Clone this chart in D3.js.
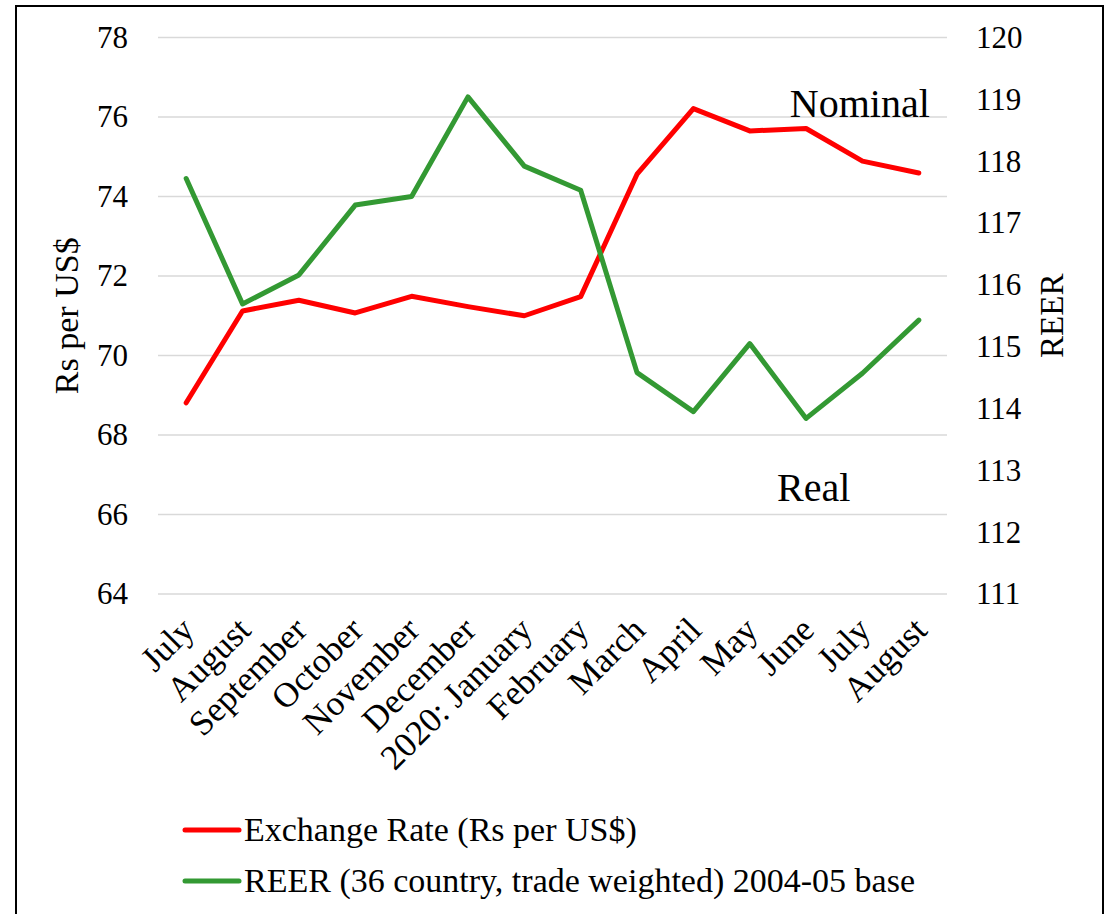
<!DOCTYPE html>
<html>
<head>
<meta charset="utf-8">
<script src="https://cdn.jsdelivr.net/npm/d3@7"></script>
<style>
  html, body { margin: 0; padding: 0; background: #fff; }
  svg { display: block; }
  text { font-family: "Liberation Serif", "Times New Roman", serif; fill: #000; }
</style>
</head>
<body>
<svg id="chart" width="1109" height="914" font-family="Liberation Serif"></svg>
<script>
// Months, July 2019 to August 2020
const months = ["July", "August", "September", "October", "November", "December",
  "2020: January", "February", "March", "April", "May", "June", "July", "August"];

// Nominal exchange rate, Rs per US$ (left axis)
const exchangeRate = [68.81, 71.12, 71.39, 71.07, 71.49, 71.23, 71.00, 71.48,
  74.56, 76.21, 75.65, 75.71, 74.89, 74.59];

// REER, 36-country trade weighted, 2004-05 base (right axis)
const reer = [117.72, 115.69, 116.16, 117.29, 117.43, 119.04, 117.92, 117.53,
  114.58, 113.95, 115.05, 113.84, 114.57, 115.43];

const leftTicks = [64, 66, 68, 70, 72, 74, 76, 78];
const rightTicks = [111, 112, 113, 114, 115, 116, 117, 118, 119, 120];

const legendLabels = ["Exchange Rate (Rs per US$)", "REER (36 country, trade weighted) 2004-05 base"];
const seriesColors = ["#ff0000", "#339933"];

const svg = d3.select("#chart");
const serif = "Liberation Serif";

const plot = { left: 158, right: 947, top: 37.5, bottom: 594 };

const x = d3.scalePoint()
  .domain(d3.range(months.length))
  .range([plot.left, plot.right])
  .padding(0.5);

const yLeft = d3.scaleLinear().domain([64, 78]).range([plot.bottom, plot.top]);
const yRight = d3.scaleLinear().domain([111, 120]).range([plot.bottom, plot.top]);

// Outer frame
svg.append("rect")
  .attr("x", 16).attr("y", 6)
  .attr("width", 1087).attr("height", 920)
  .attr("fill", "none").attr("stroke", "#000").attr("stroke-width", 2);

// Horizontal gridlines on the left-axis ticks
svg.append("g")
  .selectAll("line")
  .data(leftTicks)
  .join("line")
  .attr("x1", plot.left).attr("x2", plot.right)
  .attr("y1", d => yLeft(d)).attr("y2", d => yLeft(d))
  .attr("stroke", "#d9d9d9").attr("stroke-width", 1.5);

// Left axis
const gLeft = svg.append("g")
  .attr("transform", `translate(${plot.left},0)`)
  .call(d3.axisLeft(yLeft).tickValues(leftTicks).tickSize(0).tickPadding(30))
  .attr("font-family", serif)
  .attr("font-size", 31);
gLeft.select(".domain").remove();

// Right axis
const gRight = svg.append("g")
  .attr("transform", `translate(${plot.right},0)`)
  .call(d3.axisRight(yRight).tickValues(rightTicks).tickSize(0).tickPadding(29))
  .attr("font-family", serif)
  .attr("font-size", 31);
gRight.select(".domain").remove();

// Category labels, rotated
svg.append("g")
  .selectAll("text")
  .data(months)
  .join("text")
  .attr("transform", (d, i) => `translate(${x(i) + 10},${plot.bottom + 38}) rotate(-45)`)
  .attr("text-anchor", "end")
  .attr("font-family", serif)
  .style("font-size", "35px")
  .text(d => d);

// Axis titles
svg.append("text")
  .attr("transform", `translate(78,${(plot.top + plot.bottom) / 2}) rotate(-90)`)
  .attr("text-anchor", "middle")
  .attr("font-family", serif)
  .style("font-size", "34px")
  .text("Rs per US$");

svg.append("text")
  .attr("transform", `translate(1063,${(plot.top + plot.bottom) / 2}) rotate(-90)`)
  .attr("text-anchor", "middle")
  .attr("font-family", serif)
  .style("font-size", "33px")
  .text("REER");

// Series lines
const lineLeft = d3.line().x((d, i) => x(i)).y(d => yLeft(d));
const lineRight = d3.line().x((d, i) => x(i)).y(d => yRight(d));

svg.append("path")
  .datum(exchangeRate)
  .attr("d", lineLeft)
  .attr("fill", "none")
  .attr("stroke", seriesColors[0])
  .attr("stroke-width", 5)
  .attr("stroke-linejoin", "round")
  .attr("stroke-linecap", "round");

svg.append("path")
  .datum(reer)
  .attr("d", lineRight)
  .attr("fill", "none")
  .attr("stroke", seriesColors[1])
  .attr("stroke-width", 5)
  .attr("stroke-linejoin", "round")
  .attr("stroke-linecap", "round");

// Annotations
svg.append("text")
  .attr("x", x(months.length - 1) + 11)
  .attr("y", yLeft(76))
  .attr("text-anchor", "end")
  .style("font-size", "40px")
  .text("Nominal");

svg.append("text")
  .attr("x", x(11) - 29)
  .attr("y", 501)
  .attr("text-anchor", "start")
  .style("font-size", "40px")
  .text("Real");

// Legend
const legend = svg.append("g")
  .selectAll("g")
  .data(legendLabels)
  .join("g")
  .attr("transform", (d, i) => `translate(185,${830 + i * 51})`);

legend.append("line")
  .attr("x1", 0).attr("x2", 54)
  .attr("y1", 0).attr("y2", 0)
  .attr("stroke", (d, i) => seriesColors[i])
  .attr("stroke-width", 5)
  .attr("stroke-linecap", "round");

legend.append("text")
  .attr("x", 59)
  .attr("y", 11)
  .style("font-size", "34px")
  .text(d => d);
</script>
</body>
</html>
